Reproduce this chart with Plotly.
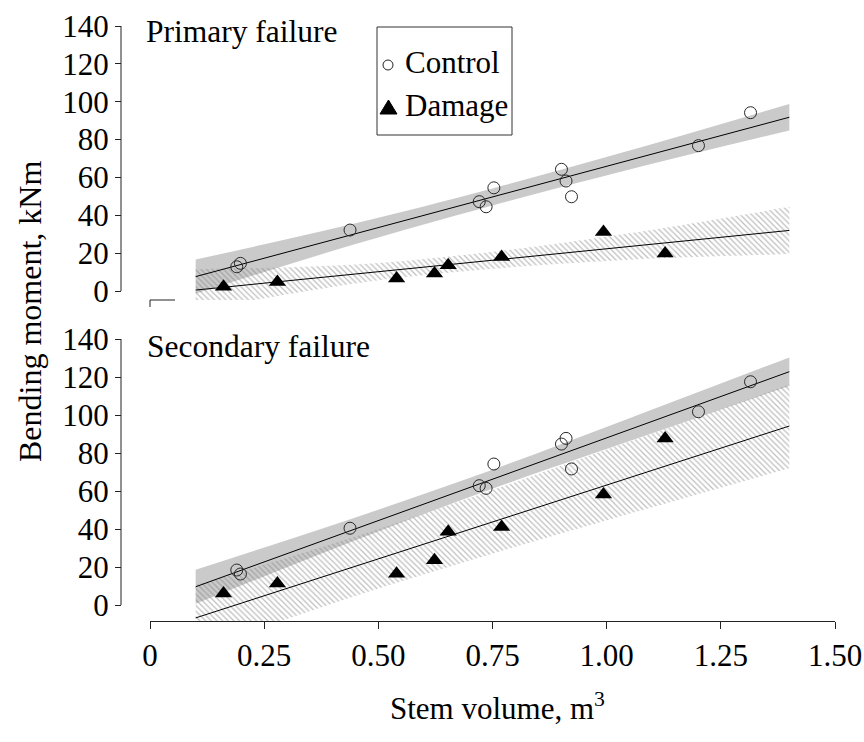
import plotly.graph_objects as go

# ---- measured data -------------------------------------------------------
# stem volume (m^3) of the control trees and their bending moments (kNm)
ctrl_vol = [0.190, 0.198, 0.438, 0.721, 0.736, 0.753, 0.901, 0.911, 0.923, 1.201, 1.315]
ctrl_primary = [12.8, 14.6, 32.2, 47.2, 44.5, 54.5, 64.3, 58.1, 49.8, 76.8, 94.2]
ctrl_secondary = [18.4, 16.3, 40.4, 62.8, 61.4, 74.2, 84.7, 87.7, 71.6, 101.7, 117.5]

# damaged trees
dmg_vol = [0.161, 0.279, 0.540, 0.623, 0.653, 0.770, 0.993, 1.128]
dmg_primary = [2.2, 4.8, 6.6, 9.2, 13.6, 18.0, 31.2, 19.8]
dmg_secondary = [6.0, 11.3, 16.5, 23.6, 38.5, 41.1, 58.1, 87.6]

# fitted regression lines (end points)
fit_vol = [0.1, 1.4]
ctrl_primary_fit = [7.6, 91.8]
dmg_primary_fit = [0.5, 32.0]
ctrl_secondary_fit = [9.6, 122.8]
dmg_secondary_fit = [-6.8, 94.2]

# confidence bands of the fits
band_vol = [0.1, 0.45, 0.75, 1.05, 1.4]
ctrl_primary_lo = [-1.4, 24.8, 45.2, 64.2, 84.8]
ctrl_primary_hi = [16.6, 35.8, 54.2, 74.2, 98.8]
dmg_primary_lo = [-10.5, 4.0, 11.7, 16.5, 19.5]
dmg_primary_hi = [11.5, 14.0, 20.7, 30.5, 44.5]
ctrl_secondary_lo = [0.6, 34.1, 61.2, 86.3, 115.3]
ctrl_secondary_hi = [18.6, 46.1, 71.2, 98.3, 130.3]
dmg_secondary_lo = [-24.0, 4.8, 27.0, 48.0, 72.0]
dmg_secondary_hi = [10.5, 36.0, 60.5, 86.0, 116.0]

x_ticks = [0, 0.25, 0.5, 0.75, 1.0, 1.25, 1.5]
x_ticktext = ["0", "0.25", "0.50", "0.75", "1.00", "1.25", "1.50"]
y_ticks = [0, 20, 40, 60, 80, 100, 120, 140]
series_names = ["Control", "Damage"]

# ---- page geometry (pixels) -----------------------------------------------
W, H = 864, 742
FONT = "Liberation Serif"


def fx(p):
    return p / W


def fy(p):
    return 1 - p / H


X_LEFT, X_RIGHT = 150, 835          # x = 0 and x = 1.5
YAXIS_X = 121                       # detached y axis line
# upper panel: value 0 at 291 px, 140 at 26 px, panel floor at 300 px
TOP_ZERO, TOP_MAX, TOP_FLOOR = 291, 26, 300
# lower panel: value 0 at 605 px, 140 at 339 px, x axis at 621 px
BOT_ZERO, BOT_MAX, BOT_FLOOR = 605, 339, 621


def yrange(zero, top, floor):
    ppu = (zero - top) / 140.0
    return [-(floor - zero) / ppu, 140]


fig = go.Figure()

GRAY = "rgb(202,202,202)"
HATCH = dict(shape="\\", size=4, solidity=0.3, fgcolor="rgb(125,125,125)",
             bgcolor="rgba(0,0,0,0)")


def add_panel(xa, ya, c_lo, c_hi, d_lo, d_hi, c_fit, d_fit, c_pts, d_pts):
    # control band (solid gray)
    fig.add_trace(go.Scatter(x=band_vol, y=c_lo, xaxis=xa, yaxis=ya, mode="lines",
                             line=dict(width=0, shape="spline"), showlegend=False,
                             hoverinfo="skip"))
    fig.add_trace(go.Scatter(x=band_vol, y=c_hi, xaxis=xa, yaxis=ya, mode="lines",
                             line=dict(width=0, shape="spline"), fill="tonexty",
                             fillcolor=GRAY, showlegend=False, hoverinfo="skip"))
    # damage band (hatched)
    fig.add_trace(go.Scatter(x=band_vol, y=d_lo, xaxis=xa, yaxis=ya, mode="lines",
                             line=dict(width=0, shape="spline"), showlegend=False,
                             hoverinfo="skip"))
    fig.add_trace(go.Scatter(x=band_vol, y=d_hi, xaxis=xa, yaxis=ya, mode="lines",
                             line=dict(width=0, shape="spline"), fill="tonexty",
                             fillcolor="rgba(0,0,0,0)", fillpattern=HATCH,
                             showlegend=False, hoverinfo="skip"))
    # regression lines
    for fit in (c_fit, d_fit):
        fig.add_trace(go.Scatter(x=fit_vol, y=fit, xaxis=xa, yaxis=ya, mode="lines",
                                 line=dict(color="black", width=1), showlegend=False,
                                 hoverinfo="skip"))
    # observations
    fig.add_trace(go.Scatter(x=ctrl_vol, y=c_pts, xaxis=xa, yaxis=ya, mode="markers",
                             name=series_names[0], showlegend=False,
                             marker=dict(symbol="circle-open", size=12,
                                         color="rgb(40,40,40)", line=dict(width=1))))
    fig.add_trace(go.Scatter(x=dmg_vol, y=d_pts, xaxis=xa, yaxis=ya, mode="markers",
                             name=series_names[1], showlegend=False,
                             marker=dict(symbol="triangle-up", size=15, color="black")))


add_panel("x2", "y2", ctrl_primary_lo, ctrl_primary_hi, dmg_primary_lo, dmg_primary_hi,
          ctrl_primary_fit, dmg_primary_fit, ctrl_primary, dmg_primary)
add_panel("x", "y", ctrl_secondary_lo, ctrl_secondary_hi, dmg_secondary_lo,
          dmg_secondary_hi, ctrl_secondary_fit, dmg_secondary_fit, ctrl_secondary,
          dmg_secondary)

axis_font = dict(family=FONT, size=31, color="black")
common_y = dict(anchor="free", position=fx(YAXIS_X), tickmode="array",
                tickvals=y_ticks, ticks="outside", ticklen=6, tickwidth=1,
                tickcolor="#222", showline=False, showgrid=False, zeroline=False,
                tickfont=axis_font, automargin=False)

fig.update_layout(
    width=W, height=H,
    margin=dict(l=0, r=0, t=0, b=0),
    paper_bgcolor="white", plot_bgcolor="white",
    font=dict(family=FONT, size=30, color="black"),
    showlegend=False,
    xaxis=dict(domain=[fx(X_LEFT), fx(X_RIGHT)], range=[0, 1.5], anchor="y",
               tickmode="array", tickvals=x_ticks, ticktext=x_ticktext,
               ticks="outside", ticklen=7, tickwidth=1, tickcolor="#222",
               showline=True, linecolor="#222", linewidth=1, showgrid=False,
               zeroline=False, tickfont=axis_font, automargin=False),
    xaxis2=dict(domain=[fx(X_LEFT), fx(X_RIGHT)], range=[0, 1.5], anchor="y2",
                visible=False),
    yaxis=dict(domain=[fy(BOT_FLOOR), fy(BOT_MAX)],
               range=yrange(BOT_ZERO, BOT_MAX, BOT_FLOOR), **common_y),
    yaxis2=dict(domain=[fy(TOP_FLOOR), fy(TOP_MAX)],
                range=yrange(TOP_ZERO, TOP_MAX, TOP_FLOOR), **common_y),
)

LINE = dict(color="#222", width=1)
# detached y axis lines spanning 0..140
for yref in ("y", "y2"):
    fig.add_shape(type="line", xref="paper", yref=yref, x0=fx(YAXIS_X), x1=fx(YAXIS_X),
                  y0=0, y1=140, line=LINE)

# stub of the upper panel's x axis
fig.add_shape(type="line", xref="paper", yref="paper", x0=fx(X_LEFT), x1=fx(175),
              y0=fy(TOP_FLOOR), y1=fy(TOP_FLOOR), line=LINE)
fig.add_shape(type="line", xref="paper", yref="paper", x0=fx(X_LEFT), x1=fx(X_LEFT),
              y0=fy(TOP_FLOOR), y1=fy(TOP_FLOOR + 7), line=LINE)

# legend box with its two symbol keys
fig.add_shape(type="rect", xref="paper", yref="paper", x0=fx(377), x1=fx(512),
              y0=fy(135), y1=fy(27), line=dict(color="#333", width=1),
              fillcolor="white", layer="above")
fig.add_shape(type="circle", xref="paper", yref="paper", x0=fx(383), x1=fx(393),
              y0=fy(70), y1=fy(60), line=dict(color="#222", width=1),
              fillcolor="white", layer="above")
fig.add_shape(type="path", xref="paper", yref="paper",
              path="M {:.5f},{:.5f} L {:.5f},{:.5f} L {:.5f},{:.5f} Z".format(
                  fx(380), fy(114), fx(397), fy(114), fx(388.5), fy(100)),
              line=dict(color="black", width=1), fillcolor="black", layer="above")
for name, ypx in zip(series_names, (63, 106)):
    fig.add_annotation(text=name, x=fx(403), y=fy(ypx), xref="paper", yref="paper",
                       xanchor="left", yanchor="middle", showarrow=False,
                       font=dict(family=FONT, size=31, color="black"))

# panel titles and axis titles
fig.add_annotation(text="Primary failure", x=fx(144), y=fy(31), xref="paper",
                   yref="paper", xanchor="left", yanchor="middle", showarrow=False,
                   font=dict(family=FONT, size=31.5, color="black"))
fig.add_annotation(text="Secondary failure", x=fx(145), y=fy(346), xref="paper",
                   yref="paper", xanchor="left", yanchor="middle", showarrow=False,
                   font=dict(family=FONT, size=31.5, color="black"))
fig.add_annotation(text="Bending moment, kNm", x=fx(30), y=fy(312), xref="paper",
                   yref="paper", xanchor="center", yanchor="middle", textangle=-90,
                   showarrow=False, font=dict(family=FONT, size=32, color="black"))
fig.add_annotation(text="Stem volume, m<sup>3</sup>", x=fx(498), y=fy(706), xref="paper",
                   yref="paper", xanchor="center", yanchor="middle", showarrow=False,
                   font=dict(family=FONT, size=31, color="black"))

fig.write_html("out.html")
